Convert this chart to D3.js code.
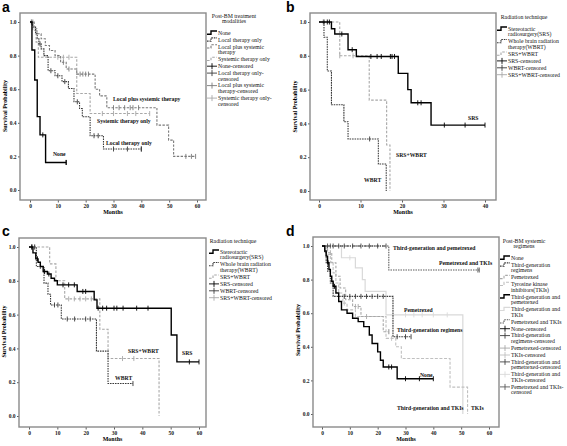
<!DOCTYPE html>
<html><head><meta charset="utf-8">
<script src="https://cdn.jsdelivr.net/npm/d3@7"></script>
<style>body{margin:0;background:#fff}svg{display:block}</style>
</head><body>
<script>
// ================= DATA =================
const yTickVals = [0, 0.2, 0.4, 0.6, 0.8, 1.0];
const xTicksA = [0, 10, 20, 30, 40, 50, 60];
const xTicksB = [0, 10, 20, 30, 40];
const xTicksC = [0, 10, 20, 30, 40, 50, 60];
const xTicksD = [0, 10, 20, 30, 40, 50, 60];

// Panel a: Post-BM treatment modalities
const aNone = [[0,1],[0.7,0.833],[1.7,0.655],[2.6,0.437],[3.6,0.328],[5.6,0.164]];
const aNoneEnd = 13, aNoneCens = [4.6, 13];
const aLocal = [[0,1],[1,0.97],[2,0.93],[2.6,0.9],[3.2,0.87],[4,0.84],[5,0.8],[6.5,0.71],[9,0.68],[11.5,0.645],[13.8,0.604],[15.8,0.525],[17.8,0.485],[18.8,0.436],[21.6,0.323],[26.4,0.244]];
const aLocalEnd = 40, aLocalCens = [3.6, 7.5, 10, 12.5, 17, 23, 24.5, 30, 35, 40];
const aLocSys = [[0,1],[1.5,0.96],[2.5,0.93],[4,0.9],[5.5,0.86],[7,0.83],[9,0.8],[11,0.76],[13,0.72],[16.8,0.69],[23.4,0.6],[25,0.56],[27.6,0.49],[45.6,0.386],[49.8,0.297],[51.6,0.2]];
const aLocSysEnd = 59.5, aLocSysCens = [0.5, 1, 12, 14, 18, 19, 20, 21, 30, 32, 34, 36, 37, 39, 56, 58];
const aSys = [[0,1],[1,0.95],[2.2,0.88],[3,0.79],[16.8,0.574],[21.6,0.455]];
const aSysEnd = 43, aSysCens = [0.5, 10, 12, 14, 26, 30, 35, 38];

// Panel b: Radiation technique
const bSRS = [[0,1],[3,0.96],[3.8,0.929],[7,0.836],[9,0.796],[19.1,0.696],[21.4,0.6],[22.2,0.522],[27,0.39]];
const bSRSEnd = 40, bSRSCens = [1.2, 2, 2.5, 5.5, 8, 12.5, 14, 15, 17.2, 17.6, 18.2, 23.8, 24.6, 30.2, 35.2];
const bWBRT = [[0,1],[1.2,0.91],[2,0.71],[3,0.51],[6,0.41],[7,0.308],[14.3,0.16],[16.2,0]];
const bWBRTEnd = 16.2, bWBRTCens = [12.2];
const bBoth = [[0,1],[5,0.8],[12.1,0.538],[16.3,0.272],[17.1,0]];
const bBothEnd = 17.1, bBothCens = [1, 5, 8.2];

// Panel c: Radiation technique
const cSRS = [[0,1],[1.4,0.965],[2.4,0.93],[3.2,0.91],[4,0.885],[5,0.855],[6.5,0.84],[7.8,0.815],[9,0.8],[10,0.776],[17,0.737],[23,0.687],[24,0.638],[50.2,0.479],[52.2,0.32]];
const cSRSEnd = 60, cSRSCens = [1, 3, 5.5, 7, 12, 14, 16, 19, 20, 24.4, 26, 27.4, 30, 31, 33.2, 38, 42, 56.6];
const cWBRT = [[0,1],[2.6,0.885],[5.3,0.786],[6.7,0.72],[7.6,0.657],[11.4,0.574],[23.8,0.384],[27.9,0.192]];
const cWBRTEnd = 36.7, cWBRTCens = [1, 2, 4, 9, 10.2, 13.5, 16.1, 20, 21.6];
const cBoth = [[0,1],[7.3,0.9],[9.5,0.8],[12.6,0.693],[25,0.513],[27.9,0.34],[45.9,0]];
const cBothEnd = 45.9, cBothCens = [1, 2, 14, 16, 18, 20, 22, 33, 37];

// Panel d: Post-BM systemic regimens
const dNone = [[0,1],[1,0.97],[1.5,0.94],[2,0.9],[2.5,0.86],[3,0.82],[3.5,0.79],[4,0.76],[5,0.72],[6,0.67],[7,0.62],[9,0.6],[11,0.57],[13,0.55],[15,0.52],[17,0.47],[18,0.42],[20,0.37],[21,0.32],[22,0.28],[27,0.21]];
const dNoneEnd = 40, dNoneCens = [2.2, 4.5, 24, 25, 30, 35];
const dThird = [[0,1],[1,0.96],[1.5,0.9],[2,0.85],[3,0.78],[4,0.7],[25.5,0.46]];
const dThirdEnd = 32, dThirdCens = [8, 10, 12, 14, 16, 18, 20, 22, 27, 30];
const dPem = [[0,1],[2,0.96],[3.5,0.9],[5,0.82],[6.5,0.75],[8.5,0.68],[11,0.64],[14,0.58],[22,0.49]];
const dPemEnd = 24, dPemCens = [3, 12, 13, 16, 24];
const dTKI = [[0,1],[1.5,0.95],[3,0.9],[4,0.84],[5,0.78],[6,0.72],[7.5,0.66],[9,0.62],[12,0.58],[23,0.45],[26.5,0.4],[28.5,0.33],[46,0.16],[52.3,0]];
const dTKIEnd = 52.3, dTKICens = [8, 25];
const dThirdPem = [[0,1]];
const dThirdPemEnd = 23, dThirdPemCens = [2, 4, 6, 8, 11, 14, 17, 20];
const dThirdTKI = [[0,1],[7,0.93],[12,0.87],[14.5,0.8],[15.5,0.73],[23,0.59],[50.6,0]];
const dThirdTKIEnd = 50.6, dThirdTKICens = [10, 30, 33, 36, 40, 45];
const dPemTKI = [[0,1],[24,0.857]];
const dPemTKIEnd = 56.5, dPemTKICens = [3, 56];

// Legend texts
const aLegTitle = ["Post-BM treatment", "modalities"];
const aLegItems = [["None"],["Local therapy only"],["Local plus systemic","therapy"],["Systemic therapy only"],["None-censored"],["Local therapy only-","censored"],["Local plus systemic","therapy-censored"],["Systemic therapy only-","censored"]];
const bLegTitle = ["Radiation technique"];
const bLegItems = [["Stereotactic","radiosurgery(SRS)"],["Whole brain radiation","therapy(WBRT)"],["SRS+WBRT"],["SRS-censored"],["WBRT-censored"],["SRS+WBRT-censored"]];
const cLegTitle = ["Radiation technique"];
const cLegItems = bLegItems;
const dLegTitle = ["Post-BM systemic", "regimens"];
const dLegItems = [["None"],["Third-generation","regimens"],["Pemetrexed"],["Tyrosine kinase","inhibitors(TKIs)"],["Third-generation and","pemetrexed"],["Third-generation and","TKIs"],["Pemetrexed and TKIs"],["None-censored"],["Third-generation","regimens-censored"],["Pemetrexed-censored"],["TKIs-censored"],["Third-generation and","pemetrexed-censored"],["Third-generation and","TKIs-censored"],["Pemetrexed and TKIs-","censored"]];

// ================= DRAWING =================
const svg = d3.select("body").append("svg").attr("width", 567).attr("height", 446);
const SERIF = "'Liberation Serif','Times New Roman',serif";

const ST = {
  black: {c:"#000", w:1.4, d:null},
  darkdot: {c:"#3a3a3a", w:1.1, d:"1.6,0.9"},
  gdash: {c:"#7a7a7a", w:1.1, d:"2.4,1.4"},
  lgdash: {c:"#a8a8a8", w:1.1, d:"2.6,1.6"},
  ldash: {c:"#c0c0c0", w:1.1, d:"3,1.6"},
  vlight: {c:"#d9d9d9", w:1.2, d:null},
  dashdot: {c:"#444", w:1.1, d:"3,1,1,1"},
  dgdot: {c:"#5a5a5a", w:1.1, d:"1.5,1"}
};

function stepAt(steps, t) {
  let s = steps[0][1];
  for (const p of steps) if (p[0] <= t) s = p[1];
  return s;
}

function panel(cfg) {
  const g = svg.append("g");
  const x = d3.scaleLinear().domain([0, cfg.xmax]).range(cfg.xr);
  const y = d3.scaleLinear().domain([0, 1]).range(cfg.yr);
  const [fx0, fy0, fx1, fy1] = cfg.frame;
  const ax = g.append("g").attr("transform", `translate(0,${fy1})`)
    .call(d3.axisBottom(x).tickValues(cfg.xticks).tickSize(2.5).tickPadding(2).tickFormat(d3.format("d")));
  const ay = g.append("g").attr("transform", `translate(${fx0},0)`)
    .call(d3.axisLeft(y).tickValues(yTickVals).tickSize(2).tickPadding(1.5).tickFormat(d3.format(".1f")));
  [ax, ay].forEach(a => {
    a.select(".domain").remove();
    a.selectAll("line").attr("stroke", "#333").attr("stroke-width", 0.8);
    a.selectAll("text").attr("font-family", SERIF).attr("font-size", 5.5).attr("font-weight", "bold").attr("fill", "#222");
  });
  g.append("rect").attr("x", fx0).attr("y", fy0).attr("width", fx1 - fx0).attr("height", fy1 - fy0)
    .attr("fill", "none").attr("stroke", "#8a8a8a").attr("stroke-width", 1.4);
  g.append("text").attr("x", (fx0 + fx1) / 2).attr("y", fy1 + 14).attr("text-anchor", "middle")
    .attr("font-family", SERIF).attr("font-size", 6).attr("font-weight", "bold").text("Months");
  g.append("text").attr("transform", `translate(${fx0 - 13},${(cfg.yr[0] + cfg.yr[1]) / 2}) rotate(-90)`)
    .attr("text-anchor", "middle").attr("font-family", SERIF).attr("font-size", 6).attr("font-weight", "bold")
    .text("Survival Probability");
  g.append("text").attr("x", cfg.letter[0]).attr("y", cfg.letter[1]).attr("font-family", "'Liberation Sans',Arial,sans-serif")
    .attr("font-size", 14).attr("font-weight", "bold").text(cfg.name);
  const line = d3.line().x(d => x(d[0])).y(d => y(d[1])).curve(d3.curveStepAfter);
  cfg.series.forEach(s => {
    const st = ST[s.style];
    const pts = s.steps.concat([[s.end, s.steps[s.steps.length - 1][1]]]);
    g.append("path").attr("d", line(pts)).attr("fill", "none").attr("stroke", st.c)
      .attr("stroke-width", st.w).attr("stroke-dasharray", st.d);
    const cens = s.cens.concat(s.steps[s.steps.length - 1][1] > 0 ? [s.end] : []);
    g.selectAll(null).data(cens).enter().append("line")
      .attr("x1", d => x(d)).attr("x2", d => x(d))
      .attr("y1", d => y(stepAt(s.steps, d)) - 2.5).attr("y2", d => y(stepAt(s.steps, d)) + 2.5)
      .attr("stroke", st.c).attr("stroke-width", 0.9);
  });
  cfg.labels.forEach(l => {
    g.append("text").attr("x", l[1]).attr("y", l[2]).attr("font-family", SERIF).attr("font-size", 5.7)
      .attr("font-weight", "bold").attr("fill", "#111").text(l[0]);
  });
  const L = cfg.legend;
  let yy = L.titleY;
  L.title.forEach(t => {
    g.append("text").attr("x", L.titleX).attr("y", yy).attr("text-anchor", "middle")
      .attr("font-family", SERIF).attr("font-size", 5.8).attr("fill", "#111").text(t);
    yy += 5.4;
  });
  let cy = L.itemY;
  L.items.forEach((lines, i) => {
    const st = ST[L.styles[i]];
    const sx = L.symX;
    if (i < L.nLines) {
      g.append("path").attr("d", `M${sx},${cy + 1.2}H${sx + 4}V${cy - 2}H${sx + 10}`)
        .attr("fill", "none").attr("stroke", st.c).attr("stroke-width", st.w).attr("stroke-dasharray", st.d);
    } else {
      g.append("path").attr("d", `M${sx},${cy}H${sx + 10}M${sx + 5},${cy - 3}V${cy + 3}`)
        .attr("fill", "none").attr("stroke", st.c).attr("stroke-width", 0.9);
    }
    lines.forEach((t, j) => {
      g.append("text").attr("x", sx + 11).attr("y", cy + 1.8 + j * 5.6).attr("font-family", SERIF)
        .attr("font-size", 5.8).attr("fill", "#111").text(t);
    });
    cy += lines.length * 5.6 + 1.3;
  });
}

panel({
  name: "a", letter: [2, 12], xmax: 60, xr: [30, 197], yr: [190, 22], frame: [20, 13, 206, 200], xticks: xTicksA,
  series: [
    {steps: aSys, end: aSysEnd, cens: aSysCens, style: "lgdash"},
    {steps: aLocSys, end: aLocSysEnd, cens: aLocSysCens, style: "gdash"},
    {steps: aLocal, end: aLocalEnd, cens: aLocalCens, style: "darkdot"},
    {steps: aNone, end: aNoneEnd, cens: aNoneCens, style: "black"}
  ],
  labels: [["Local plus systemic therapy", 113, 101], ["Systemic therapy only", 97, 123], ["Local therapy only", 106, 145], ["None", 53, 156]],
  legend: {title: aLegTitle, titleX: 234, titleY: 18, itemY: 33, symX: 207, items: aLegItems, nLines: 4,
    styles: ["black", "darkdot", "gdash", "lgdash", "black", "darkdot", "gdash", "lgdash"]}
});

panel({
  name: "b", letter: [286, 12], xmax: 40, xr: [319, 485], yr: [191, 22], frame: [310, 13, 496, 200], xticks: xTicksB,
  series: [
    {steps: bBoth, end: bBothEnd, cens: bBothCens, style: "lgdash"},
    {steps: bWBRT, end: bWBRTEnd, cens: bWBRTCens, style: "darkdot"},
    {steps: bSRS, end: bSRSEnd, cens: bSRSCens, style: "black"}
  ],
  labels: [["SRS", 468, 120], ["SRS+WBRT", 396, 157], ["WBRT", 364, 182]],
  legend: {title: bLegTitle, titleX: 524, titleY: 19, itemY: 29, symX: 497, items: bLegItems, nLines: 3,
    styles: ["black", "darkdot", "lgdash", "black", "darkdot", "lgdash"]}
});

panel({
  name: "c", letter: [2, 236], xmax: 60, xr: [29, 199], yr: [416, 247], frame: [19, 238, 206, 427], xticks: xTicksC,
  series: [
    {steps: cBoth, end: cBothEnd, cens: cBothCens, style: "lgdash"},
    {steps: cWBRT, end: cWBRTEnd, cens: cWBRTCens, style: "darkdot"},
    {steps: cSRS, end: cSRSEnd, cens: cSRSCens, style: "black"}
  ],
  labels: [["SRS", 182, 355], ["SRS+WBRT", 128, 353], ["WBRT", 115, 380]],
  legend: {title: cLegTitle, titleX: 233, titleY: 243, itemY: 252, symX: 209, items: cLegItems, nLines: 3,
    styles: ["black", "darkdot", "lgdash", "black", "darkdot", "lgdash"]}
});

panel({
  name: "d", letter: [286, 236], xmax: 60, xr: [322, 489], yr: [414, 246], frame: [313, 237, 499, 427], xticks: xTicksD,
  series: [
    {steps: dThirdTKI, end: dThirdTKIEnd, cens: dThirdTKICens, style: "vlight"},
    {steps: dTKI, end: dTKIEnd, cens: dTKICens, style: "ldash"},
    {steps: dPem, end: dPemEnd, cens: dPemCens, style: "lgdash"},
    {steps: dPemTKI, end: dPemTKIEnd, cens: dPemTKICens, style: "dgdot"},
    {steps: dThirdPem, end: dThirdPemEnd, cens: dThirdPemCens, style: "dashdot"},
    {steps: dThird, end: dThirdEnd, cens: dThirdCens, style: "darkdot"},
    {steps: dNone, end: dNoneEnd, cens: dNoneCens, style: "black"}
  ],
  labels: [["Third-generation and pemetrexed", 393, 250], ["Pemetrexed and TKIs", 439, 265], ["Pemetrexed", 404, 312],
           ["Third-generation regimens", 397, 332], ["None", 420, 377], ["Third-generation and TKIs", 397, 410], ["TKIs", 471, 410]],
  legend: {title: dLegTitle, titleX: 524, titleY: 243, itemY: 258, symX: 500, items: dLegItems, nLines: 7,
    styles: ["black", "darkdot", "lgdash", "ldash", "black", "vlight", "dgdot", "black", "darkdot", "lgdash", "ldash", "dashdot", "vlight", "dgdot"]}
});
</script>
</body></html>
